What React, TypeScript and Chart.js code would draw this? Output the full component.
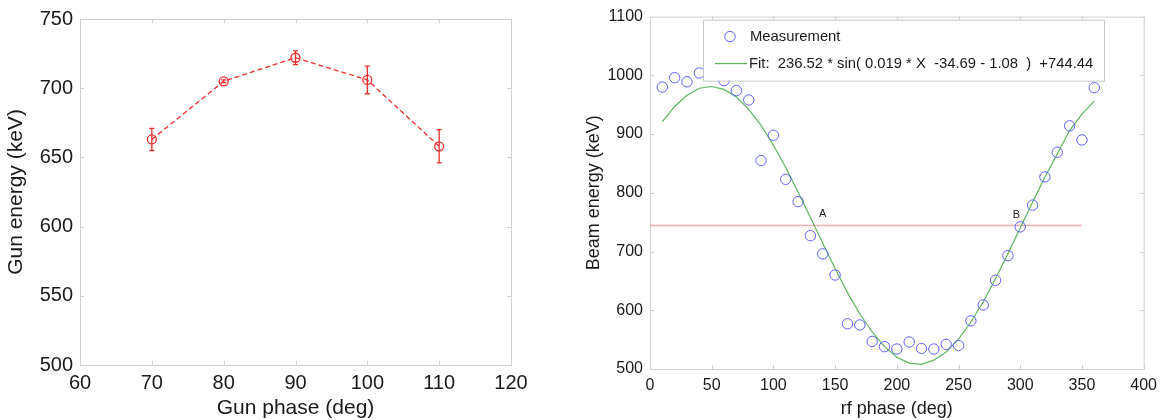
import React, { useEffect, useRef } from 'react';
import { Chart, registerables } from 'chart.js';

Chart.register(...registerables);

// ---------- Left chart data ----------
const gunPhase = [70, 80, 90, 100, 110];
const gunEnergy = [663, 705, 722, 706, 658];
const gunError = [8, 1, 5, 10, 12];
const gunXRange = [60, 120, 10];
const gunYRange = [500, 750, 50];

// ---------- Right chart data ----------
const rfPhase = [10, 20, 30, 40, 50, 60, 70, 80, 90, 100, 110, 120, 130, 140, 150, 160, 170, 180,
  190, 200, 210, 220, 230, 240, 250, 260, 270, 280, 290, 300, 310, 320, 330, 340, 350, 360];
const beamEnergy = [980, 996, 989, 1004, 1008, 991, 974, 958, 855, 898, 823, 785, 727, 696, 660, 577, 575, 547,
  538, 534, 546, 535, 534, 542, 540, 582, 609, 651, 693, 742, 779, 827, 869, 914, 890, 979];
const fitEnergy = [921, 947, 966, 978, 981, 976, 963, 942, 915, 881, 843, 801, 758, 714, 671, 630, 594, 563,
  538, 520, 510, 508, 515, 529, 551, 580, 614, 654, 696, 740, 784, 827, 866, 906, 934, 956];
const refLevel = 744.44;
const refLineX = [0, 350];
const markText = ['A', 'B'];
const markX = [140, 297];
const markY = [764, 762];
const rfXRange = [0, 400, 50];
const rfYRange = [500, 1100, 100];
const legendLabels = ['Measurement', 'Fit:  236.52 * sin( 0.019 * X  -34.69 - 1.08  )  +744.44'];

// ---------- Styles ----------
const FONT = '"Liberation Sans", Arial, Helvetica, sans-serif';
const TEXT = '#1a1a1a';
const FRAME = '#cfcfcf';
const RED = 'rgb(240,45,45)';
const BLUE = 'rgb(95,95,255)';
const GREEN = 'rgb(95,180,95)';
const PINK = 'rgb(246,170,170)';
const TICK_LEN = 4;

const framePlugin = {
  id: 'frame',
  beforeDatasetsDraw(chart: any) {
    const { ctx, chartArea, scales } = chart;
    const { left, top, right, bottom } = chartArea;
    const x = scales.x;
    const y = scales.y;
    ctx.save();
    ctx.strokeStyle = FRAME;
    ctx.lineWidth = 1;
    ctx.strokeRect(left + 0.5, top + 0.5, right - left, bottom - top);
    ctx.beginPath();
    x.ticks.forEach((t: any) => {
      const px = Math.round(x.getPixelForValue(t.value)) + 0.5;
      ctx.moveTo(px, bottom);
      ctx.lineTo(px, bottom - TICK_LEN);
      ctx.moveTo(px, top);
      ctx.lineTo(px, top + TICK_LEN);
    });
    y.ticks.forEach((t: any) => {
      const py = Math.round(y.getPixelForValue(t.value)) + 0.5;
      ctx.moveTo(left, py);
      ctx.lineTo(left + TICK_LEN, py);
      ctx.moveTo(right, py);
      ctx.lineTo(right - TICK_LEN, py);
    });
    ctx.stroke();
    ctx.restore();
  },
};

const errorBarPlugin = {
  id: 'errorBars',
  afterDatasetsDraw(chart: any) {
    const { ctx, scales } = chart;
    const x = scales.x;
    const y = scales.y;
    ctx.save();
    ctx.strokeStyle = RED;
    ctx.lineWidth = 1.3;
    ctx.beginPath();
    gunPhase.forEach((p, i) => {
      const px = x.getPixelForValue(p);
      const pt = y.getPixelForValue(gunEnergy[i] + gunError[i]);
      const pb = y.getPixelForValue(gunEnergy[i] - gunError[i]);
      ctx.moveTo(px, pt);
      ctx.lineTo(px, pb);
      ctx.moveTo(px - 2.5, pt);
      ctx.lineTo(px + 2.5, pt);
      ctx.moveTo(px - 2.5, pb);
      ctx.lineTo(px + 2.5, pb);
    });
    ctx.stroke();
    ctx.restore();
  },
};

const annotationPlugin = {
  id: 'marks',
  afterDatasetsDraw(chart: any) {
    const { ctx, scales } = chart;
    ctx.save();
    ctx.fillStyle = TEXT;
    ctx.font = `11px ${FONT}`;
    ctx.textAlign = 'center';
    ctx.textBaseline = 'middle';
    markText.forEach((t, i) => {
      ctx.fillText(t, scales.x.getPixelForValue(markX[i]), scales.y.getPixelForValue(markY[i]));
    });
    ctx.restore();
  },
};

const legendPlugin = {
  id: 'boxLegend',
  afterDraw(chart: any) {
    const { ctx, chartArea } = chart;
    const bx = chartArea.left + 53;
    const by = chartArea.top + 3;
    const bw = 401;
    const bh = 61;
    ctx.save();
    ctx.fillStyle = '#ffffff';
    ctx.fillRect(bx, by, bw, bh);
    ctx.strokeStyle = '#c8c8c8';
    ctx.lineWidth = 1;
    ctx.strokeRect(bx + 0.5, by + 0.5, bw, bh);
    // Measurement marker
    ctx.strokeStyle = BLUE;
    ctx.lineWidth = 1;
    ctx.beginPath();
    ctx.arc(bx + 27, by + 17, 5.2, 0, Math.PI * 2);
    ctx.stroke();
    // Fit line
    ctx.strokeStyle = GREEN;
    ctx.lineWidth = 1.2;
    ctx.beginPath();
    ctx.moveTo(bx + 12, by + 44);
    ctx.lineTo(bx + 44, by + 44);
    ctx.stroke();
    ctx.fillStyle = TEXT;
    ctx.font = `14.8px ${FONT}`;
    ctx.textAlign = 'left';
    ctx.textBaseline = 'middle';
    ctx.fillText(legendLabels[0], bx + 47, by + 17);
    ctx.fillText(legendLabels[1], bx + 46, by + 44);
    ctx.restore();
  },
};

function axis(range: number[], size: number, pad: number, title: string, titleSize: number, titlePad: any, fit: (s: any) => void) {
  return {
    type: 'linear' as const,
    min: range[0],
    max: range[1],
    ticks: {
      stepSize: range[2],
      autoSkip: false,
      maxRotation: 0,
      padding: pad,
      color: TEXT,
      font: { family: FONT, size },
      callback: (v: any) => String(v),
    },
    grid: { display: false, drawTicks: false },
    border: { display: false },
    title: {
      display: true,
      text: title,
      color: TEXT,
      font: { family: FONT, size: titleSize, lineHeight: 1 },
      padding: titlePad,
    },
    afterFit: fit,
  };
}

function GunChart() {
  const ref = useRef<HTMLCanvasElement>(null);
  useEffect(() => {
    if (!ref.current) return;
    const chart = new Chart(ref.current, {
      type: 'line',
      data: {
        datasets: [
          {
            data: gunPhase.map((p, i) => ({ x: p, y: gunEnergy[i] })),
            borderColor: RED,
            borderWidth: 1.3,
            borderDash: [5, 3],
            pointStyle: 'circle',
            pointRadius: 4.5,
            pointBorderColor: RED,
            pointBorderWidth: 1.3,
            pointBackgroundColor: 'rgba(0,0,0,0)',
            fill: false,
            tension: 0,
          },
        ],
      },
      options: {
        animation: false,
        responsive: false,
        devicePixelRatio: 1,
        events: [],
        layout: { padding: { left: 0, top: 17, right: 49, bottom: 0 } },
        plugins: { legend: { display: false }, tooltip: { enabled: false } },
        scales: {
          x: axis(gunXRange, 20, 6, 'Gun phase (deg)', 21, { top: 0, bottom: 1 }, (s: any) => { s.height = 55; }),
          y: axis(gunYRange, 20, 7, 'Gun energy (keV)', 21, { top: 6, bottom: 0 }, (s: any) => { s.width = 80; }),
        },
      } as any,
      plugins: [framePlugin, errorBarPlugin],
    });
    return () => chart.destroy();
  }, []);
  return <canvas ref={ref} width={560} height={420} style={{ position: 'absolute', left: 0, top: 0, display: 'block' }} />;
}

function RfChart() {
  const ref = useRef<HTMLCanvasElement>(null);
  useEffect(() => {
    if (!ref.current) return;
    const chart = new Chart(ref.current, {
      type: 'line',
      data: {
        datasets: [
          {
            label: legendLabels[0],
            data: rfPhase.map((p, i) => ({ x: p, y: beamEnergy[i] })),
            showLine: false,
            pointStyle: 'circle',
            pointRadius: 5.2,
            pointBorderColor: BLUE,
            pointBorderWidth: 1,
            pointBackgroundColor: 'rgba(0,0,0,0)',
          },
          {
            label: 'Fit',
            data: rfPhase.map((p, i) => ({ x: p, y: fitEnergy[i] })),
            borderColor: GREEN,
            borderWidth: 1.2,
            pointRadius: 0,
            fill: false,
            tension: 0,
          },
          {
            label: 'Level',
            data: refLineX.map((p) => ({ x: p, y: refLevel })),
            borderColor: PINK,
            borderWidth: 1.5,
            pointRadius: 0,
            fill: false,
          },
        ],
      },
      options: {
        animation: false,
        responsive: false,
        devicePixelRatio: 1,
        events: [],
        layout: { padding: { left: 0, top: 14, right: 20, bottom: 0 } },
        plugins: { legend: { display: false }, tooltip: { enabled: false } },
        scales: {
          x: axis(rfXRange, 16, 7, 'rf phase (deg)', 18, { top: 0, bottom: 2 }, (s: any) => { s.height = 51; }),
          y: axis(rfYRange, 16, 7, 'Beam energy (keV)', 18, { top: 5.5, bottom: 0 }, (s: any) => { s.width = 70; }),
        },
      } as any,
      plugins: [framePlugin, annotationPlugin, legendPlugin],
    });
    return () => chart.destroy();
  }, []);
  return <canvas ref={ref} width={584} height={420} style={{ position: 'absolute', left: 580, top: 0, display: 'block' }} />;
}

export default function App() {
  return (
    <div style={{ position: 'absolute', left: 0, top: 0, width: 1164, height: 420, overflow: 'hidden', background: '#ffffff' }}>
      <GunChart />
      <RfChart />
    </div>
  );
}
